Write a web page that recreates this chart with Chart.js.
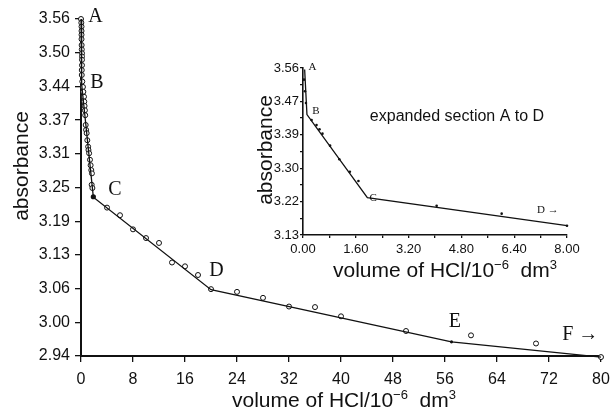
<!DOCTYPE html>
<html lang="en">
<head>
<meta charset="UTF-8">
<title>Absorbance vs volume of HCl</title>
<script src="https://cdn.jsdelivr.net/npm/chart.js"></script>
<style>
    html, body { margin: 0; padding: 0; background: #fff; }
    #wrap { position: relative; width: 611px; height: 411px; }
    #mainChart { position: absolute; left: 0; top: 0; }
    #insetChart { position: absolute; left: 240px; top: 40px; }
</style>
</head>
<body>
<div id="wrap">
    <canvas id="mainChart" width="611" height="411"></canvas>
    <canvas id="insetChart" width="371" height="260"></canvas>
</div>
<script>
// main plot - readings (open circles)
var volume = [0, 0.05, 0.08, 0.08, 0.08, 0.08, 0.10, 0.12, 0.15, 0.15,
              0.15, 0.15, 0.12, 0.12, 0.20, 0.30, 0.36, 0.46, 0.50, 0.55,
              0.60, 0.65, 0.72, 0.78, 0.87, 0.97, 1.10, 1.15, 1.25, 1.38,
              1.48, 1.58, 1.68, 1.64, 1.75,
              4, 6, 8, 10, 12, 14, 16, 18, 20, 24, 28, 32, 36, 40, 50, 60, 70, 80];
var absorbance = [3.560, 3.553, 3.546, 3.538, 3.531, 3.523, 3.512, 3.504, 3.497, 3.491,
                  3.485, 3.475, 3.466, 3.457, 3.445, 3.435, 3.426, 3.417, 3.408, 3.400,
                  3.392, 3.383, 3.365, 3.356, 3.350, 3.337, 3.325, 3.319, 3.313, 3.301,
                  3.291, 3.282, 3.276, 3.255, 3.249,
                  3.213, 3.199, 3.173, 3.157, 3.148, 3.112, 3.105, 3.089, 3.063, 3.058,
                  3.047, 3.031, 3.030, 3.013, 2.986, 2.978, 2.963, 2.938];
// filled marks (C and the break at E)
var filledVolume = [1.9, 57];
var filledAbsorbance = [3.233, 2.966];
// straight segments A-B-C-D-E-F
var fitVolume = [0, 0.1, 1.9, 20, 57, 80];
var fitAbsorbance = [3.56, 3.44, 3.232, 3.062, 2.966, 2.938];
var xTickLabels = ['0', '8', '16', '24', '32', '40', '48', '56', '64', '72', '80'];
var yTickLabels = ['2.94', '3.00', '3.06', '3.13', '3.19', '3.25', '3.31', '3.37', '3.44', '3.50', '3.56'];
var pointNames = ['A', 'B', 'C', 'D', 'E', 'F \u2192'];
var pointNameVolume = [2.23, 2.46, 5.23, 20.85, 57.5, 76.8];
var pointNameAbsorbance = [3.565, 3.443, 3.246, 3.097, 3.003, 2.980];

// inset - section A to D expanded
var insetVolume = [0.03, 0.06, 0.09, 0.26, 0.41, 0.50, 0.59, 0.82, 1.10, 1.42, 1.68, 4.05, 6.02, 8.0];
var insetAbsorbance = [3.53, 3.50, 3.47, 3.426, 3.413, 3.402, 3.391, 3.360, 3.325, 3.293, 3.269, 3.205, 3.185, 3.154];
var insetFitVolume = [0.05, 0.12, 1.95, 8];
var insetFitAbsorbance = [3.556, 3.44, 3.226, 3.154];
var insetXTickLabels = ['0.00', '1.60', '3.20', '4.80', '6.40', '8.00'];
var insetYTickLabels = ['3.13', '3.22', '3.30', '3.39', '3.47', '3.56'];
var insetNames = ['A', 'B', 'C', 'D \u2192'];
var insetNameVolume = [0.29, 0.39, 2.13, 7.42];
var insetNameAbsorbance = [3.563, 3.449, 3.225, 3.195];

var SANS = '"Liberation Sans", Arial, sans-serif';
var SERIF = '"Liberation Serif", "Times New Roman", serif';
var INK = '#111';
var axisTitle = [{ t: 'volume of HCl/10' }, { t: '\u22126', sup: true }, { t: '  dm' }, { t: '3', sup: true }];

function pts(xs, ys) {
    return xs.map(function (x, i) { return { x: x, y: ys[i] }; });
}

// evenly spaced ticks, optional unlabelled minor ticks in between
function evenTicks(labels, minor) {
    return function (scale) {
        var n = (labels.length - 1) * minor, ticks = [];
        for (var i = 0; i <= n; i++) {
            ticks.push({ value: scale.min + (scale.max - scale.min) * i / n });
        }
        scale.ticks = ticks;
    };
}
function tickText(labels, minor) {
    return function (value, index) { return index % minor ? '' : labels[index / minor]; };
}

function drawRich(ctx, parts, x, y, size) {
    var w = 0;
    parts.forEach(function (p) {
        ctx.font = (p.sup ? size * 0.62 : size) + 'px ' + SANS;
        p.w = ctx.measureText(p.t).width;
        w += p.w;
    });
    var cx = x - w / 2;
    parts.forEach(function (p) {
        ctx.font = (p.sup ? size * 0.62 : size) + 'px ' + SANS;
        ctx.fillText(p.t, cx, p.sup ? y - size * 0.4 : y);
        cx += p.w;
    });
}

function textPlugin(cfg) {
    return {
        id: 'texts',
        afterDatasetsDraw: function (chart) {
            var ctx = chart.ctx, sx = chart.scales.x, sy = chart.scales.y;
            ctx.save();
            ctx.fillStyle = INK;
            ctx.textAlign = 'center';
            ctx.textBaseline = 'middle';
            ctx.font = cfg.nameSize + 'px ' + SERIF;
            cfg.names.forEach(function (t, i) {
                ctx.fillText(t, sx.getPixelForValue(cfg.nx[i]), sy.getPixelForValue(cfg.ny[i]));
            });
            ctx.textAlign = 'left';
            ctx.textBaseline = 'alphabetic';
            drawRich(ctx, axisTitle, cfg.xTitle[0], cfg.xTitle[1], cfg.titleSize);
            ctx.save();
            ctx.translate(cfg.yTitle[0], cfg.yTitle[1]);
            ctx.rotate(-Math.PI / 2);
            drawRich(ctx, [{ t: 'absorbance' }], 0, 0, cfg.titleSize);
            ctx.restore();
            if (cfg.note) {
                ctx.font = cfg.note.size + 'px ' + SANS;
                ctx.textAlign = 'center';
                ctx.fillText(cfg.note.t, cfg.note.x, cfg.note.y);
            }
            ctx.restore();
        }
    };
}

function axis(min, max, labels, minor, fitSize, tickLen, pad, fontSize, lw) {
    return {
        type: 'linear', min: min, max: max,
        afterBuildTicks: evenTicks(labels, minor),
        afterFit: function (s) {
            fitSize(s);
            // keep the plot edges where the layout padding puts them
            s.paddingLeft = 0; s.paddingRight = 0; s.paddingTop = 0; s.paddingBottom = 0;
        },
        grid: { drawOnChartArea: false, drawTicks: true, tickLength: tickLen, color: INK, lineWidth: 1.3 },
        border: { display: true, color: INK, width: lw },
        ticks: { autoSkip: false, maxRotation: 0, padding: pad, color: INK,
                 font: { family: SANS, size: fontSize }, callback: tickText(labels, minor) }
    };
}

new Chart(document.getElementById('mainChart'), {
    type: 'scatter',
    data: {
        datasets: [
            { data: pts(fitVolume, fitAbsorbance), showLine: true, borderColor: INK, borderWidth: 1.3,
              pointRadius: 0, tension: 0, clip: false },
            { data: pts(volume, absorbance), pointRadius: 2.5, pointBorderWidth: 1,
              pointBorderColor: INK, pointBackgroundColor: '#fff', clip: false },
            { data: pts(filledVolume, filledAbsorbance), pointRadius: [2.6, 1.6], pointBorderWidth: 0,
              pointBackgroundColor: INK, clip: false }
        ]
    },
    options: {
        responsive: false, animation: false, devicePixelRatio: 1,
        layout: { padding: { left: 0, top: 19, right: 10, bottom: 0 } },
        plugins: { legend: { display: false }, tooltip: { enabled: false } },
        scales: {
            x: axis(0, 80, xTickLabels, 1, function (s) { s.height = 55; }, 6, 8, 16, 2),
            y: axis(2.94, 3.56, yTickLabels, 1, function (s) { s.width = 81; }, 6, 5, 16, 2)
        }
    },
    plugins: [textPlugin({
        names: pointNames, nx: pointNameVolume, ny: pointNameAbsorbance, nameSize: 20,
        titleSize: 21, xTitle: [344, 407], yTitle: [28, 166]
    })]
});

new Chart(document.getElementById('insetChart'), {
    type: 'scatter',
    data: {
        datasets: [
            { data: pts(insetFitVolume, insetFitAbsorbance), showLine: true, borderColor: INK, borderWidth: 1.3,
              pointRadius: 0, tension: 0, clip: false },
            { data: pts(insetVolume, insetAbsorbance), pointRadius: 1.3, pointBorderWidth: 0,
              pointBackgroundColor: INK, clip: false }
        ]
    },
    options: {
        responsive: false, animation: false, devicePixelRatio: 1,
        layout: { padding: { left: 0, top: 28, right: 44, bottom: 0 } },
        plugins: { legend: { display: false }, tooltip: { enabled: false } },
        scales: {
            x: axis(0, 8, insetXTickLabels, 2, function (s) { s.height = 65; }, 3, 4, 13, 1.6),
            y: axis(3.13, 3.56, insetYTickLabels, 2, function (s) { s.width = 63; }, 3, 1, 13, 1.6)
        }
    },
    plugins: [textPlugin({
        names: insetNames, nx: insetNameVolume, ny: insetNameAbsorbance, nameSize: 11,
        titleSize: 21, xTitle: [205, 237], yTitle: [32, 110],
        note: { t: 'expanded section A to D', x: 217, y: 81, size: 16 }
    })]
});
</script>
</body>
</html>
